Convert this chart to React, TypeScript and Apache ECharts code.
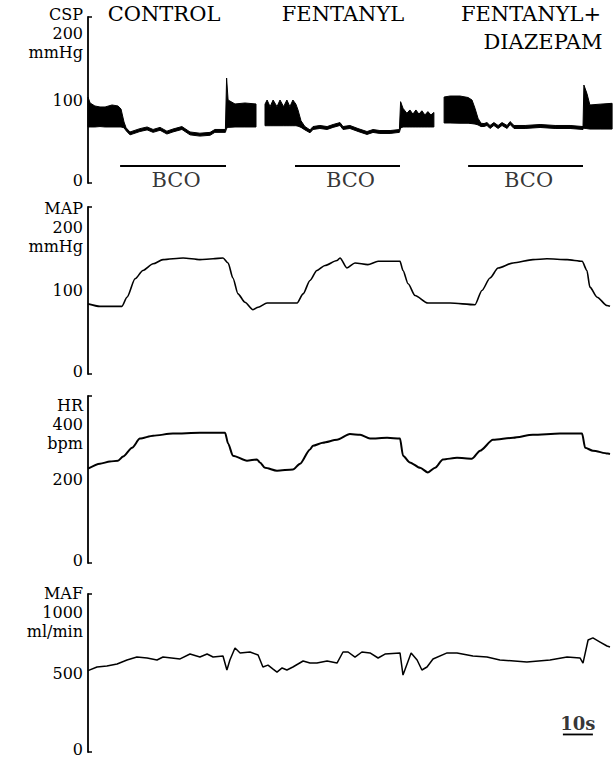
import React, { useEffect, useRef } from 'react';
import * as echarts from 'echarts';

// ---------- data (time in seconds, 3 px per s) ----------
const T_MAX = 175;

// CSP pulsatile band: systolic (upper) and diastolic (lower) edges; null = recording gap
const CSP_T = [
  0, 0.7, 2.3, 4, 5.7, 8, 10, 11, 12, 12.7, 14, 17.3, 19.7, 21.7, 24, 26.3, 28.3, 31.3, 34, 37.3, 40.7, 42.3, 45.8, 46.2, 46.7, 49, 52.3, 56,
  57.5,
  59, 59.7, 60.7, 61.7, 63, 64, 65.2, 66.3, 67.3, 68.3, 69.3, 70, 71, 72.3, 74, 75, 77.3, 79.7, 81.7, 84, 85, 87.3, 90, 93, 95, 97.3, 100.7, 103.8, 104.2, 105, 106.3, 107.3, 108.3, 109.3, 110.3, 111.3, 112.3, 113.3, 114.3, 115.3,
  116.8,
  118.7, 120.7, 124, 126.7, 128, 129, 130, 131, 132, 133, 134, 135.3, 136.7, 138, 139.7, 140.7, 142, 145.7, 150.7, 155.7, 160.7, 165, 165.3, 166.3, 167.3, 170.7, 174.7,
];
const CSP_SYS = [
  103.6, 96.4, 92.8, 91.6, 91.6, 94, 92.8, 89.2, 73.5, 66.5, 61.5, 65.5, 67.5, 64.5, 67, 62.5, 65, 68, 61.5, 60, 61, 64.5, 64.5, 126.5, 100, 95.2, 96.4, 95.2,
  null,
  95, 100, 92, 100, 92, 100, 92, 100, 92, 100, 95, 88, 75, 68, 64, 68, 69.3, 68, 70.5, 72.8, 68, 69.3, 65.6, 62, 64.4, 63.2, 63.2, 64.4, 98, 90, 84, 88, 83, 88, 83, 87, 82, 86, 82, 85,
  null,
  103.6, 104.8, 104.8, 103, 100, 90, 78, 72, 71.6, 72.8, 69.3, 72.8, 69.3, 72.8, 69.3, 74, 69.3, 69.3, 70.5, 69.3, 69.3, 68, 118, 108, 94, 95, 96,
];
const CSP_DIA = [
  67.5, 67.5, 67.5, 68, 67.5, 67.5, 67.5, 67.5, 66.5, 63, 58, 62, 64, 61, 63.5, 59, 61.5, 64.5, 58, 56.5, 57.5, 61, 61, 66, 67, 67.5, 67.5, 67.5,
  null,
  69, 69, 69, 69, 69, 69, 69, 69, 69, 69, 69, 68.5, 67, 64, 60.5, 64.5, 65.7, 64.5, 67, 69.3, 64.5, 65.7, 62.1, 58.5, 60.9, 59.7, 59.7, 61, 66.3, 67.5, 67.5, 67.5, 67.5, 67.5, 67.5, 67.5, 67.5, 67.5, 67.5, 67.5,
  null,
  72.3, 72.3, 72, 72, 71.5, 71, 70, 68, 68.1, 69.3, 65.7, 69.3, 65.7, 69.3, 65.7, 70.5, 65.7, 65.7, 66.9, 65.7, 65.7, 64.5, 66, 65.5, 65, 65, 65,
];

// BCO (bilateral carotid occlusion) periods
const BCO_START = [10.7, 69, 126.7];
const BCO_END = [46, 104, 165];
const BCO_LEVEL = 20.5;
const BCO_LABEL = 'BCO';

const MAP_T = [0, 4, 11.3, 13, 15.7, 18.3, 21.7, 25, 31.7, 37.3, 41.7, 45, 46.7, 48.3, 50, 52.3, 55, 56.7, 59.7, 69.7, 71.7, 74, 76.3, 79, 83, 84, 86.3, 89, 93.3, 96.7, 104, 105, 106.7, 109, 113.3, 120.7, 129, 131.3, 134, 136.7, 141.7, 148.3, 153, 159.7, 164.7, 166.3, 167.3, 169.7, 173, 174];
const MAP_V = [84, 81, 81, 92, 114, 124, 132, 137, 139, 137, 138, 139, 133, 115, 96, 86, 77, 80, 85, 85, 96, 112, 124, 130, 136, 139, 127, 133, 131, 135, 135, 124, 108, 94, 85, 85, 83, 100, 115, 127, 133, 137, 138, 137, 135, 124, 104, 92, 82, 81];

const HR_T = [0, 4, 7.3, 10, 11.7, 14.7, 17.3, 21.7, 28.3, 37.3, 45.7, 46.7, 48.3, 53, 56.3, 57.3, 59, 63, 68.3, 70.7, 74, 75, 78.3, 83, 87.3, 90.7, 94, 99.7, 104, 105, 107.3, 110.7, 113.3, 115.7, 118.3, 123, 128, 130.7, 135, 141.7, 148.3, 157.3, 164.7, 165.7, 168.3, 173.3, 174];
const HR_V = [226, 238, 243, 245, 255, 276, 298, 305, 310, 312, 312, 286, 257, 245, 248, 241, 228, 221, 224, 238, 272, 281, 288, 295, 309, 307, 298, 300, 298, 257, 241, 228, 217, 228, 248, 252, 250, 269, 295, 300, 307, 310, 310, 276, 269, 262, 261];

const MAF_T = [0, 3, 6.3, 9.7, 13, 16.3, 19.7, 23, 25, 30.7, 34, 37.3, 39.7, 41.7, 45, 46.3, 47.3, 49, 50.7, 54, 56.7, 58.3, 60, 61.7, 63, 64.7, 66.3, 68.3, 71.7, 74, 76.3, 79.7, 83, 85, 86.7, 89, 91.3, 94, 96.7, 99, 104, 105, 107.7, 109.7, 111.3, 113, 115, 119.7, 123, 128.3, 133, 137.3, 146.3, 154, 159.7, 164, 165, 166.7, 168.3, 170.7, 173, 174];
const MAF_V = [515, 538, 544, 557, 582, 601, 595, 582, 601, 589, 620, 601, 620, 601, 608, 519, 582, 658, 627, 633, 614, 538, 550, 525, 506, 532, 519, 538, 576, 563, 563, 576, 563, 633, 633, 601, 633, 627, 595, 620, 627, 487, 627, 582, 519, 538, 589, 627, 627, 608, 601, 582, 570, 582, 601, 595, 563, 709, 722, 696, 671, 665];

// time scale bar (10 s)
const SCALE_BAR_T = [158.3, 168.3];
const SCALE_BAR_LEVEL = 111;
const SCALE_BAR_LABEL = '10s';

// axes
const AXIS_NAMES = ['CSP', 'MAP', 'HR', 'MAF'];
const AXIS_UNITS = ['mmHg', 'mmHg', 'bpm', 'ml/min'];
const AXIS_MAX = [200, 200, 400, 1000];
const AXIS_STEP = [100, 100, 200, 500];

const HEADERS = ['CONTROL', 'FENTANYL', 'FENTANYL+', 'DIAZEPAM'];

// ---------- layout ----------
const FONT = '"DejaVu Serif", serif';
const GRIDS = [
  { top: 17, height: 166 },
  { top: 207, height: 167 },
  { top: 396, height: 167 },
  { top: 594, height: 158 },
];
const LABEL_SPACER = [32, 40, 56, 36];
const LABEL_FS = 16;
const LABEL_LH = 19;

const zip = (t: number[], v: (number | null)[]) => t.map((x, i) => [x, v[i]]);

// split the CSP band at the recording gaps: [t, sys, dia][] per segment
function cspSegments() {
  const segs: number[][][] = [];
  let cur: number[][] = [];
  CSP_T.forEach((t, i) => {
    const s = CSP_SYS[i];
    const d = CSP_DIA[i];
    if (s == null || d == null) {
      if (cur.length) segs.push(cur);
      cur = [];
    } else {
      cur.push([t, s, d]);
    }
  });
  if (cur.length) segs.push(cur);
  return segs;
}

function buildOption() {
  const segs = cspSegments();
  const grid = GRIDS.map((g) => ({
    left: 88, width: 525, top: g.top, height: g.height,
    containLabel: false, outerBoundsMode: 'none',
  }));
  const xAxis = GRIDS.map((_, i) => ({
    type: 'value', gridIndex: i, min: 0, max: T_MAX, show: false,
  }));
  const yAxis = GRIDS.map((_, i) => ({
    type: 'value',
    gridIndex: i,
    min: 0,
    max: AXIS_MAX[i],
    interval: AXIS_STEP[i],
    splitLine: { show: false },
    axisLine: { show: true, lineStyle: { color: '#000', width: 1.8 } },
    axisTick: {
      show: true, inside: true, length: 4,
      customValues: [0, AXIS_MAX[i]],
      lineStyle: { color: '#000', width: 1.5 },
    },
    axisLabel: {
      show: true,
      margin: 5,
      color: '#000',
      fontFamily: FONT,
      fontSize: LABEL_FS,
      formatter: (v: number) =>
        v === AXIS_MAX[i]
          ? `{s| }\n{a|${AXIS_NAMES[i]}}\n{a|${v}}\n{a|${AXIS_UNITS[i]}}`
          : v === 0
            ? `{z|${v}}`
            : `{a|${v}}`,
      rich: {
        s: { fontSize: 1, lineHeight: LABEL_SPACER[i], height: LABEL_SPACER[i] },
        a: { fontSize: LABEL_FS, lineHeight: LABEL_LH, fontFamily: FONT, color: '#000' },
        z: { fontSize: LABEL_FS, lineHeight: LABEL_LH, fontFamily: FONT, color: '#000', padding: [0, 0, 5, 0] },
      },
    },
  }));

  const traceLine = (w: number) => ({ color: '#000', width: w });

  const bcoData: any[] = [];
  BCO_START.forEach((s, k) => {
    if (k > 0) bcoData.push([s - 1, null]);
    bcoData.push([s, BCO_LEVEL], [BCO_END[k], BCO_LEVEL]);
  });

  const series: any[] = [
    {
      type: 'custom', xAxisIndex: 0, yAxisIndex: 0,
      data: segs.map((seg) => [seg[0][0], seg[0][1]]),
      encode: { x: 0, y: 1 },
      renderItem: (params: any, api: any) => {
        const seg = segs[params.dataIndex];
        const top = seg.map((p) => api.coord([p[0], p[1]]));
        const bot = seg.map((p) => api.coord([p[0], p[2]])).reverse();
        return {
          type: 'polygon',
          shape: { points: top.concat(bot) },
          style: { fill: '#000', stroke: '#000', lineWidth: 1, lineJoin: 'round' },
        };
      },
    },
    {
      type: 'line', xAxisIndex: 0, yAxisIndex: 0, data: bcoData, symbol: 'none',
      lineStyle: traceLine(2), connectNulls: false,
    },
    {
      type: 'scatter', xAxisIndex: 0, yAxisIndex: 0, symbolSize: 0,
      data: BCO_START.map((s, k) => [(s + BCO_END[k]) / 2 + 1, BCO_LEVEL]),
      label: {
        show: true, position: 'bottom', distance: 4, formatter: BCO_LABEL,
        color: '#000', fontFamily: FONT, fontSize: 21,
      },
    },
    {
      type: 'line', xAxisIndex: 1, yAxisIndex: 1, data: zip(MAP_T, MAP_V), symbol: 'none',
      smooth: 0.25, smoothMonotone: 'x',
      lineStyle: traceLine(1.6),
    },
    {
      type: 'line', xAxisIndex: 2, yAxisIndex: 2, data: zip(HR_T, HR_V), symbol: 'none',
      smooth: 0.25, smoothMonotone: 'x',
      lineStyle: traceLine(2),
    },
    {
      type: 'line', xAxisIndex: 3, yAxisIndex: 3, data: zip(MAF_T, MAF_V), symbol: 'none',
      lineStyle: traceLine(1.5),
    },
    {
      type: 'line', xAxisIndex: 3, yAxisIndex: 3, symbol: 'none',
      data: SCALE_BAR_T.map((t) => [t, SCALE_BAR_LEVEL]),
      lineStyle: traceLine(1.8),
    },
    {
      type: 'scatter', xAxisIndex: 3, yAxisIndex: 3, symbolSize: 0,
      data: [[(SCALE_BAR_T[0] + SCALE_BAR_T[1]) / 2, SCALE_BAR_LEVEL]],
      label: {
        show: true, position: 'top', distance: 2, formatter: SCALE_BAR_LABEL,
        color: '#000', fontFamily: FONT, fontSize: 18, fontWeight: 'bold',
      },
    },
  ];

  const headerStyle = (text: string) => ({
    text, fill: '#000', fontFamily: FONT, fontSize: 21,
    align: 'center', verticalAlign: 'middle',
  });

  return {
    animation: false,
    backgroundColor: '#fff',
    grid, xAxis, yAxis, series,
    graphic: [
      { type: 'text', x: 164, y: 14, style: headerStyle(HEADERS[0]) },
      { type: 'text', x: 343, y: 14, style: headerStyle(HEADERS[1]) },
      { type: 'text', x: 531, y: 14, style: headerStyle(HEADERS[2]) },
      { type: 'text', x: 543, y: 42, style: headerStyle(HEADERS[3]) },
    ],
  };
}

export default function App() {
  const ref = useRef<HTMLDivElement>(null);
  useEffect(() => {
    if (!ref.current) return;
    const chart = echarts.init(ref.current, undefined, { renderer: 'svg' });
    chart.setOption(buildOption() as any);
    return () => chart.dispose();
  }, []);
  return (
    <div
      ref={ref}
      style={{ position: 'absolute', left: 0, top: 0, width: 614, height: 759, background: '#fff' }}
    />
  );
}
